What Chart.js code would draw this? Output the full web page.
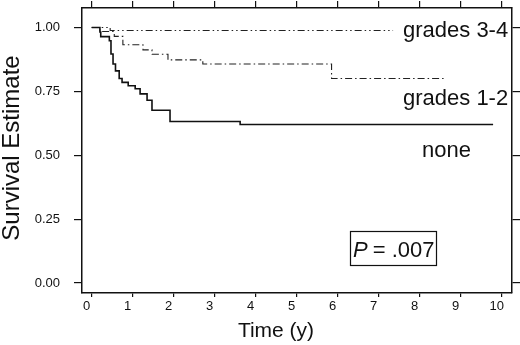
<!DOCTYPE html>
<html>
<head>
<meta charset="utf-8">
<script src="https://cdn.jsdelivr.net/npm/chart.js@4.4.1/dist/chart.umd.min.js"></script>
<style>
  html, body { margin: 0; padding: 0; background: #fff; }
  #wrap { width: 520px; height: 345px; position: relative; }
</style>
</head>
<body>
<div id="wrap"><canvas id="km"></canvas></div>
<script>
// Kaplan-Meier curves (time in years)
const noneTimes = [0, 0.20, 0.22, 0.43, 0.47, 0.52, 0.58, 0.67, 0.74, 0.89, 1.06, 1.18, 1.35, 1.47, 1.91, 3.62, 9.79];
const noneSurv  = [1, 0.982, 0.964, 0.948, 0.896, 0.857, 0.83, 0.80, 0.785, 0.772, 0.76, 0.74, 0.715, 0.676, 0.632, 0.62, 0.62];

const grades12Times = [0, 0.20, 0.55, 0.76, 1.25, 1.47, 1.86, 2.71, 5.85, 8.62];
const grades12Surv  = [1, 0.984, 0.965, 0.932, 0.912, 0.895, 0.873, 0.857, 0.80, 0.80];

const grades34Times = [0, 0.45, 7.35];
const grades34Surv  = [1, 0.988, 0.988];

const seriesNames = ['none', 'grades 1-2', 'grades 3-4'];

const xTicks = [0, 1, 2, 3, 4, 5, 6, 7, 8, 9, 10];
const yTicks = [0, 0.25, 0.5, 0.75, 1];
const yTickLabels = ['0.00', '0.25', '0.50', '0.75', '1.00'];

const pText = '.007';

const FONT = "'Liberation Sans', Arial, sans-serif";

function toPoints(times, surv) {
    return times.map((t, i) => ({ x: t, y: surv[i] }));
}

// fixed axis ranges so the frame sits where it does in the figure
const X_MIN = -0.237, X_MAX = 10.251;
const Y_MIN = -0.039, Y_MAX = 1.076;

// titles, curve labels and the P box
const textPlugin = {
    id: 'kmText',
    afterDraw(chart) {
        const c = chart.ctx;
        c.save();
        c.fillStyle = '#111';
        c.textBaseline = 'middle';
        c.textAlign = 'center';

        // y title
        c.save();
        c.translate(12, 148);
        c.rotate(-Math.PI / 2);
        c.font = '24px ' + FONT;
        c.fillText('Survival Estimate', 0, 0);
        c.restore();

        // x title
        c.font = '21px ' + FONT;
        c.fillText('Time (y)', 276, 331);

        // curve labels
        c.textAlign = 'left';
        c.textBaseline = 'alphabetic';
        c.font = '22px ' + FONT;
        c.fillText(seriesNames[2], 403, 37);
        c.fillText(seriesNames[1], 403, 105);
        c.fillText(seriesNames[0], 422, 157);

        // P box
        c.strokeStyle = '#111';
        c.lineWidth = 1.2;
        c.strokeRect(350.5, 231.5, 86, 34);
        c.font = 'italic 22px ' + FONT;
        c.fillText('P', 353, 257);
        const pw = c.measureText('P').width;
        c.font = '22px ' + FONT;
        c.fillText(' = ' + pText, 353 + pw - 1, 257);
        c.restore();
    }
};

const gridOpts = (len) => ({
    drawOnChartArea: false,
    drawTicks: true,
    tickLength: len,
    color: '#111',
    lineWidth: 1.2
});

const borderOpts = { display: true, color: '#111', width: 1.5 };

// pin a scale's box size and drop the extra label padding Chart.js adds
function pinSize(prop, size) {
    return (s) => {
        s[prop] = size;
        s.paddingTop = 0;
        s.paddingBottom = 0;
        s.paddingLeft = 0;
        s.paddingRight = 0;
    };
}

// survival holds until the event time, then drops
const STEP = 'before';

new Chart(document.getElementById('km'), {
    type: 'line',
    data: {
        datasets: [
            {
                label: seriesNames[0],
                data: toPoints(noneTimes, noneSurv),
                borderColor: '#111',
                borderWidth: 1.6,
                stepped: STEP,
                pointRadius: 0,
                fill: false
            },
            {
                label: seriesNames[1],
                data: toPoints(grades12Times, grades12Surv),
                borderColor: '#222',
                borderWidth: 1.1,
                borderDash: [7, 3, 1.5, 3],
                stepped: STEP,
                pointRadius: 0,
                fill: false
            },
            {
                label: seriesNames[2],
                data: toPoints(grades34Times, grades34Surv),
                borderColor: '#222',
                borderWidth: 1.1,
                borderDash: [7, 3, 1.5, 3, 1.5, 3],
                stepped: STEP,
                pointRadius: 0,
                fill: false
            }
        ]
    },
    options: {
        responsive: true,
        maintainAspectRatio: false,
        animation: false,
        devicePixelRatio: 1,
        layout: { padding: 0 },
        plugins: {
            legend: { display: false },
            tooltip: { enabled: false }
        },
        scales: {
            x: {
                type: 'linear',
                position: 'bottom',
                min: X_MIN,
                max: X_MAX,
                afterBuildTicks: (s) => { s.ticks = xTicks.map(v => ({ value: v })); },
                afterFit: pinSize('height', 52),
                ticks: {
                    color: '#111',
                    font: { family: FONT, size: 13 },
                    padding: 2,
                    labelOffset: -5,
                    maxRotation: 0,
                    autoSkip: false,
                    callback: (v) => String(v)
                },
                grid: gridOpts(4),
                border: borderOpts
            },
            xTop: {
                type: 'linear',
                position: 'top',
                min: X_MIN,
                max: X_MAX,
                afterBuildTicks: (s) => { s.ticks = xTicks.map(v => ({ value: v })); },
                afterFit: pinSize('height', 8),
                ticks: { display: false },
                grid: gridOpts(7),
                border: borderOpts
            },
            y: {
                type: 'linear',
                position: 'left',
                min: Y_MIN,
                max: Y_MAX,
                afterBuildTicks: (s) => { s.ticks = yTicks.map(v => ({ value: v })); },
                afterFit: pinSize('width', 82),
                ticks: {
                    color: '#111',
                    font: { family: FONT, size: 13 },
                    padding: 14,
                    autoSkip: false,
                    callback: (v, i) => yTickLabels[i]
                },
                grid: gridOpts(8),
                border: borderOpts
            },
            yRight: {
                type: 'linear',
                position: 'right',
                min: Y_MIN,
                max: Y_MAX,
                afterBuildTicks: (s) => { s.ticks = yTicks.map(v => ({ value: v })); },
                afterFit: pinSize('width', 8),
                ticks: { display: false },
                grid: gridOpts(8),
                border: borderOpts
            }
        }
    },
    plugins: [textPlugin]
});
</script>
</body>
</html>
